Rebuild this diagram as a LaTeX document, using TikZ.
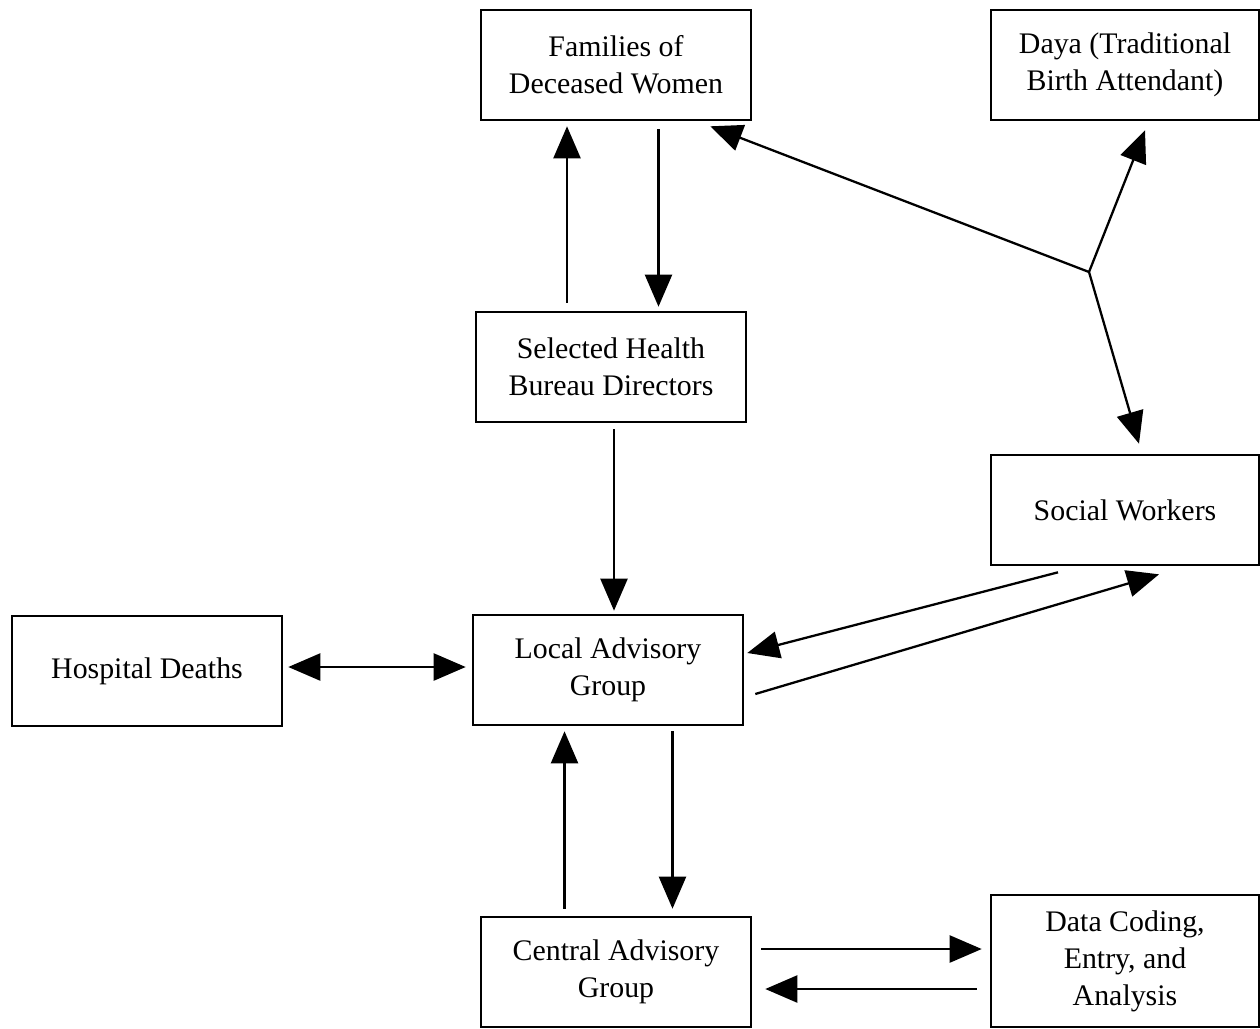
\documentclass[tikz,border=0pt]{standalone}
\usepackage{fontspec}
\setmainfont{Liberation Serif}
\usetikzlibrary{arrows.meta,calc}

\begin{document}
\begin{tikzpicture}[x=0.02cm,y=-0.02cm,
	box/.style={draw,line width=1.5pt,minimum width=5.4cm,minimum height=2.2cm,
		align=center,inner sep=0pt,font=\fontsize{17}{21}\selectfont},
	arr/.style={-{Triangle[length=0.64cm,width=0.54cm]},line width=1.3pt},
	both/.style={{Triangle[length=0.64cm,width=0.54cm]}-{Triangle[length=0.64cm,width=0.54cm]},line width=1.3pt}]
	\useasboundingbox (0,0) rectangle (1260,1028);
	% boxes
	\node[box] (fam) at (616,65) {Families of\\Deceased Women};
	\node[box,minimum width=5.36cm] (daya) at (1125,65) {Daya (Traditional\\Birth Attendant)};
	\node[box] (sel) at (611,367) {Selected Health\\Bureau Directors};
	\node[box,minimum width=5.36cm] (soc) at (1125,510) {Social Workers};
	\node[box] (hosp) at (147,671) {Hospital Deaths};
	\node[box] (loc) at (608,670) {Local Advisory\\Group};
	\node[box] (cen) at (616,972) {Central Advisory\\Group};
	\node[box,minimum width=5.36cm,minimum height=2.64cm] (data) at (1125,961) {Data Coding,\\Entry, and\\Analysis};
	% vertical links
	\draw[arr,shorten <=0.16cm,shorten >=0.1cm] ([xshift=-0.88cm]sel.north) -- ([xshift=-0.88cm]sel.north |- fam.south);
	\draw[arr,shorten <=0.16cm,shorten >=0.08cm] ([xshift=0.85cm]fam.south) -- ([xshift=0.85cm]fam.south |- sel.north);
	\draw[arr,shorten <=0.12cm,shorten >=0.06cm] ([xshift=0.06cm]sel.south) -- ([xshift=0.06cm]sel.south |- loc.north);
	\draw[arr,shorten <=0.1cm,shorten >=0.14cm] ([xshift=1.29cm]loc.south) -- ([xshift=1.29cm]loc.south |- cen.north);
	\draw[arr,shorten <=0.14cm,shorten >=0.1cm] ([xshift=-1.03cm]cen.north) -- ([xshift=-1.03cm]cen.north |- loc.south);
	% horizontal links
	\draw[both,shorten <=0.1cm,shorten >=0.12cm] ([yshift=0.08cm]hosp.east) -- ([yshift=0.08cm]hosp.east -| loc.west);
	\draw[arr,shorten <=0.18cm,shorten >=0.16cm] ([yshift=0.46cm]cen.east) -- ([yshift=0.46cm]cen.east -| data.west);
	\draw[arr,shorten <=0.26cm,shorten >=0.26cm] ([yshift=-0.34cm]cen.east -| data.west) -- ([yshift=-0.34cm]cen.east);
	% social workers
	\draw[arr] ($(soc.south)+(-67,6)$) -- ($(loc.east)+(3,-17)$);
	\draw[arr] ($(loc.east)+(11,24)$) -- ($(soc.south)+(34,8)$);
	% branching link
	\coordinate (j) at (1089,272);
	\draw[arr] (j) -- ($(fam.south east)+(-42,5)$);
	\draw[arr] (j) -- ($(daya.south)+(20,9)$);
	\draw[arr] (j) -- ($(soc.north)+(14,-10)$);
\end{tikzpicture}
\end{document}
